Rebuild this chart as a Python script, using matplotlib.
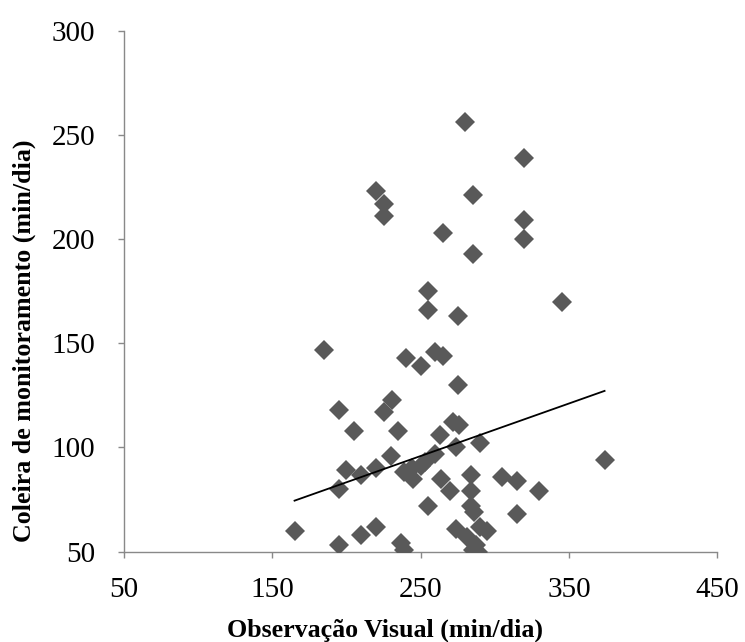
import matplotlib
matplotlib.use("Agg")
import matplotlib.pyplot as plt
import numpy as np

obs_visual = [280, 320, 220, 225, 225, 285, 320, 320, 265, 285,
              255, 255, 275, 345, 185, 240, 260, 265, 250, 275,
              195, 231, 225, 205, 235, 272, 276, 263, 290, 274,
              230, 260, 253, 250, 200, 210, 220, 239, 245, 244,
              264, 270, 255, 284, 284, 284, 286, 305, 315, 330,
              315, 374, 195, 165, 195, 210, 220, 237, 239, 274,
              281, 287, 289, 290, 295, 285]
coleira = [256, 239, 223, 217, 211, 221, 209, 200, 203, 193,
           175, 166, 163, 170, 147, 143, 146, 144, 139, 130,
           118, 123, 117, 108, 108, 112, 111, 106, 102, 100,
           96, 97, 93, 91, 89, 87, 90, 88, 85, 90,
           85, 79, 72, 87, 79, 72, 69, 86, 84, 79,
           68, 94, 80, 60, 53, 58, 62, 54, 51, 61,
           57, 53, 50, 62, 60, 51]

# linear trend line as shown in the chart (fit includes points below the axis)
trend_slope = 0.252
trend_intercept = 32.9

x_ticks = [50, 150, 250, 350, 450]
y_ticks = [50, 100, 150, 200, 250, 300]

plt.rcParams['font.family'] = ['Liberation Serif', 'DejaVu Serif']

fig = plt.figure(figsize=(7.45, 6.42), dpi=100)
ax = fig.add_axes([0.1664, 0.1407, 0.7964, 0.8115])

# scatter points
ax.plot(obs_visual, coleira, 'D', color='#595959', markersize=9.8,
        markeredgewidth=0, linestyle='none', zorder=3)

# trend line over the data range
xl = np.array([min(obs_visual), max(obs_visual)], dtype=float)
ax.plot(xl, trend_slope * xl + trend_intercept, color='black',
        linewidth=1.3, zorder=4)

ax.set_xlim(50, 450)
ax.set_ylim(50, 300)
ax.set_xticks(x_ticks)
ax.set_yticks(y_ticks)

for side in ['top', 'right']:
    ax.spines[side].set_visible(False)
for side in ['left', 'bottom']:
    ax.spines[side].set_color('#898989')
    ax.spines[side].set_linewidth(1.0)

ax.tick_params(axis='both', direction='out', length=4.5, width=1.0,
               color='#898989', labelsize=21, labelcolor='black')
ax.tick_params(axis='x', pad=14)
ax.tick_params(axis='y', pad=16)

# axis titles (placed like the original chart area titles)
fig.text(385 / 745, 1 - 630 / 642, 'Observação Visual (min/dia)',
         fontsize=18.7, fontweight='bold', ha='center', va='center')
fig.text(24 / 745, 1 - 341 / 642, 'Coleira de monitoramento (min/dia)',
         fontsize=18.7, fontweight='bold', ha='center', va='center',
         rotation=90)

fig.savefig('out.png', dpi=100)
